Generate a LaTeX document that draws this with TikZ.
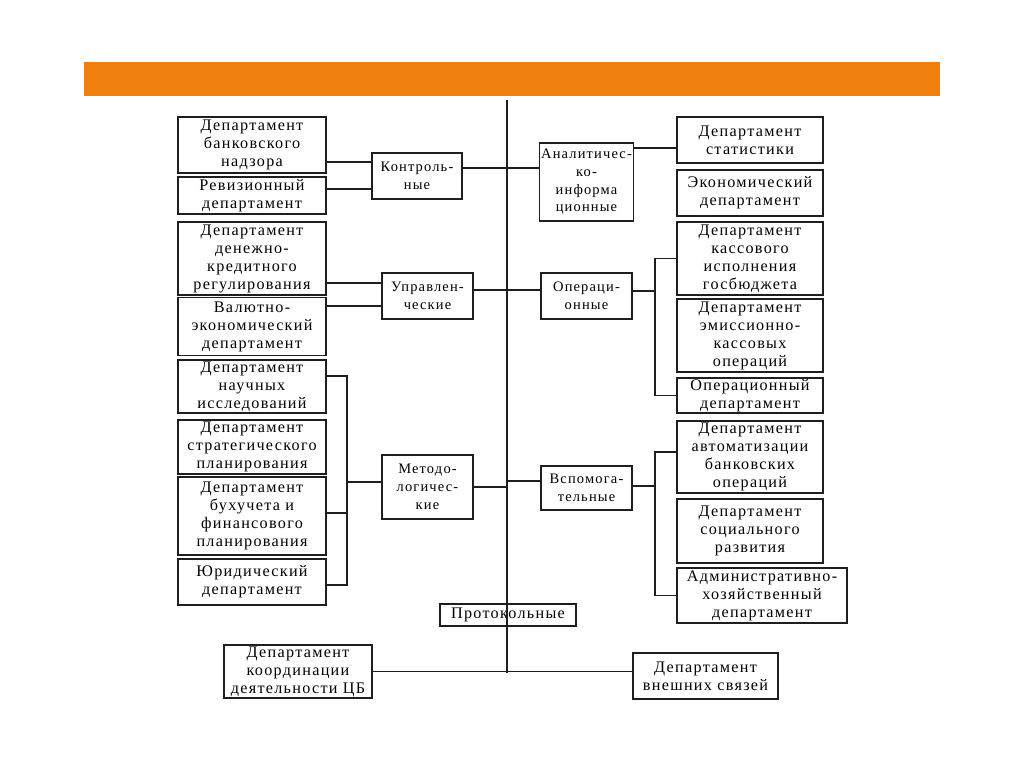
\documentclass[tikz,border=0pt]{standalone}
\usepackage{fontspec}
\setmainfont{Liberation Serif}[LetterSpace=8]
\usetikzlibrary{positioning,calc}
\usepackage{xcolor}
\definecolor{barorange}{HTML}{EF7F0E}
\definecolor{lineblack}{HTML}{1E1E1E}

\begin{document}
\begin{tikzpicture}[
    x=0.025cm, y=-0.025cm,
    dept/.style={draw=lineblack, line width=0.9pt, align=center, inner sep=1pt, font=\fontsize{11.5}{12.8}\selectfont},
    grp/.style={draw=lineblack, line width=0.9pt, align=center, inner sep=1pt, font=\fontsize{10.3}{12.6}\selectfont, minimum width=2.275cm},
    link/.style={draw=lineblack, line width=0.9pt},
]
\fill[white] (0,0) rectangle (1024,767);
\useasboundingbox (0,0) rectangle (1024,767);

% Top bar
\fill[barorange] (84,62) rectangle (940,96);

% Left column: departments
\node[dept, minimum width=3.7cm, minimum height=1.4cm] (dBank) at (252,145) {Департамент\\банковского\\надзора};
\node[dept, minimum width=3.7cm, minimum height=0.925cm] (dRev) at (252,195.5) {Ревизионный\\департамент};
\node[dept, minimum width=3.7cm, minimum height=1.825cm] (dDkp) at (252,258.5) {Департамент\\денежно-\\кредитного\\регулирования};
\node[dept, minimum width=3.7cm, minimum height=1.45cm] (dVal) at (252,326.5) {Валютно-\\экономический\\департамент};
\node[dept, minimum width=3.7cm, minimum height=1.325cm] (dNauch) at (252,386.5) {Департамент\\научных\\исследований};
\node[dept, minimum width=3.7cm, minimum height=1.35cm] (dStrat) at (252,447) {Департамент\\стратегического\\планирования};
\node[dept, minimum width=3.7cm, minimum height=1.95cm] (dBuh) at (252,516) {Департамент\\бухучета и\\финансового\\планирования};
\node[dept, minimum width=3.7cm, minimum height=1.15cm] (dYur) at (252,582) {Юридический\\департамент};

% Left groups
\node[grp, minimum width=2.25cm, minimum height=1.15cm] (kontr) at (417,176) {Контроль-\\ные};
\node[grp, minimum height=1.15cm] (uprav) at (427.5,296) {Управлен-\\ческие};
\node[grp, minimum height=1.6cm] (metod) at (427.5,487) {Методо-\\логичес-\\кие};

% Right groups
\node[grp, minimum height=1.95cm] (anal) at (586.5,182) {Аналитичес-\\ко-\\информа\\ционные};
\node[grp, minimum height=1.15cm] (oper) at (586.5,296) {Операци-\\онные};
\node[grp, minimum height=1.1cm] (vspom) at (586.5,488) {Вспомога-\\тельные};

% Right column: departments
\node[dept, minimum width=3.65cm, minimum height=1.15cm] (dStat) at (750,140) {Департамент\\статистики};
\node[dept, minimum width=3.65cm, minimum height=1.15cm] (dEkon) at (750,193) {Экономический\\департамент};
\node[dept, minimum width=3.65cm, minimum height=1.825cm] (dKass) at (750,258.5) {Департамент\\кассового\\исполнения\\госбюджета};
\node[dept, minimum width=3.65cm, minimum height=1.825cm] (dEmis) at (750,335.5) {Департамент\\эмиссионно-\\кассовых\\операций};
\node[dept, minimum width=3.65cm, minimum height=0.875cm, inner sep=0pt] (dOperD) at (750,395.5) {Операционный\\департамент};
\node[dept, minimum width=3.65cm, minimum height=1.8cm] (dAvt) at (750,457) {Департамент\\автоматизации\\банковских\\операций};
\node[dept, minimum width=3.65cm, minimum height=1.6cm] (dSoc) at (750,531) {Департамент\\социального\\развития};
\node[dept, minimum width=4.25cm, minimum height=1.375cm] (dAdm) at (762,595.5) {Административно-\\хозяйственный\\департамент};

% Bottom
\node[dept, minimum width=3.4cm, minimum height=0.55cm, inner sep=0pt] (proto) at (508,615) {Протокольные};
\node[dept, minimum width=3.7cm, minimum height=1.325cm] (dKoord) at (298,671.5) {Департамент\\координации\\деятельности ЦБ};
\node[dept, minimum width=3.625cm, minimum height=1.15cm] (dVnesh) at (705.5,676) {Департамент\\внешних связей};

% Spine and bracket points
\coordinate (spTop) at (507,100);
\coordinate (spBot) at (507,673);
\coordinate (brL) at (347,482);
\coordinate (brR1) at (655,291);
\coordinate (brR2) at (655,486);

\draw[link] (spTop) -- (spBot);

% Left links
\draw[link] ([yshift=0.35cm]kontr.west) -- ([yshift=0.35cm]kontr.west -| dBank.east);
\draw[link] ([yshift=-0.325cm]kontr.west) -- ([yshift=-0.325cm]kontr.west -| dRev.east);
\draw[link] ([yshift=0.325cm]uprav.west) -- ([yshift=0.325cm]uprav.west -| dDkp.east);
\draw[link] ([yshift=-0.25cm]uprav.west) -- ([yshift=-0.25cm]uprav.west -| dVal.east);
\draw[link] ([yshift=0.2625cm]dNauch.east) -| (brL);
\draw[link] ([yshift=0.075cm]dBuh.east) -| (brL);
\draw[link] ([yshift=-0.075cm]dYur.east) -| (brL);
\draw[link] (brL) -- (brL -| metod.west);

% Groups to spine
\draw[link] ([yshift=0.2cm]kontr.east) -- ([yshift=0.2cm]kontr.east -| spTop);
\draw[link] ([yshift=0.15cm]uprav.east) -- ([yshift=0.15cm]uprav.east -| spTop);
\draw[link] (metod.east) -- (metod.east -| spTop);
\draw[link] ([yshift=0.35cm]anal.west) -- ([yshift=0.35cm]anal.west -| spTop);
\draw[link] ([yshift=0.15cm]oper.west) -- ([yshift=0.15cm]oper.west -| spTop);
\draw[link] ([yshift=0.175cm]vspom.west) -- ([yshift=0.175cm]vspom.west -| spTop);

% Right links
\draw[link] ([yshift=0.85cm]anal.east) -- ([yshift=0.85cm]anal.east -| dStat.west);
\draw[link] (dKass.west) -| (brR1);
\draw[link] (dOperD.west) -| (brR1);
\draw[link] (brR1) -- (brR1 -| oper.east);
\draw[link] ([yshift=0.125cm]dAvt.west) -| (brR2);
\draw[link] (dAdm.west) -| (brR2);
\draw[link] (brR2) -- (brR2 -| vspom.east);

% Bottom link
\draw[link] (dKoord.east) -- (dKoord.east -| dVnesh.west);

\end{tikzpicture}
\end{document}
